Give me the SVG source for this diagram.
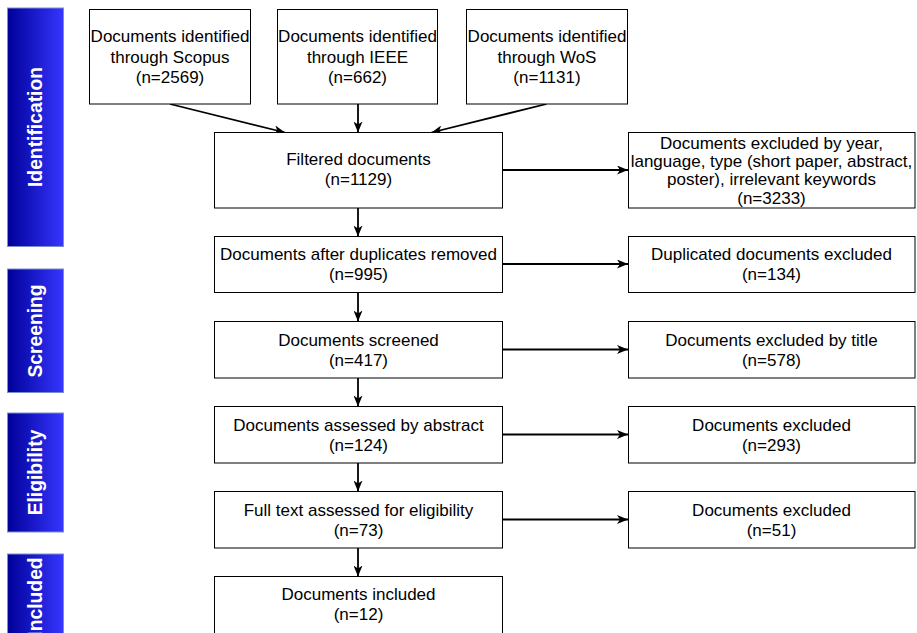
<svg xmlns="http://www.w3.org/2000/svg" width="917" height="633" viewBox="0 0 917 633">
<defs>
<linearGradient id="phase" x1="0" y1="0" x2="1" y2="0">
<stop offset="0" stop-color="#000099"/>
<stop offset="1" stop-color="#3636ff"/>
</linearGradient>
<marker id="arr" viewBox="0 0 11 9" refX="11" refY="4.5" markerWidth="11" markerHeight="9" markerUnits="userSpaceOnUse" orient="auto">
<path d="M0,0 L11,4.5 L0,9 L3,4.5 Z" fill="#000"/>
</marker>
<style>
.box{fill:#fff;stroke:#000;stroke-width:1}
.phase{fill:url(#phase);stroke:#7a8fd0;stroke-width:1}
.t{font-family:"Liberation Sans",Arial,sans-serif;font-size:17px;fill:#000;text-anchor:middle}
.pt{font-family:"Liberation Sans",Arial,sans-serif;font-size:19.3px;font-weight:bold;fill:#fff;text-anchor:middle}
.c{fill:none;stroke:#000;stroke-width:1.8;marker-end:url(#arr)}
</style>
</defs>
<rect width="917" height="633" fill="#fff"/>

<g id="phase-identification">
<rect class="phase" x="7.5" y="8" width="56" height="238.5"/>
<text class="pt" transform="translate(42,127) rotate(-90)">Identification</text>
</g>
<g id="phase-screening">
<rect class="phase" x="7.5" y="269" width="56" height="123.5"/>
<text class="pt" transform="translate(42,331) rotate(-90)">Screening</text>
</g>
<g id="phase-eligibility">
<rect class="phase" x="7.5" y="413" width="56" height="119"/>
<text class="pt" transform="translate(42,472.5) rotate(-90)">Eligibility</text>
</g>
<g id="phase-included">
<rect class="phase" x="7.5" y="554" width="56" height="86"/>
<text class="pt" transform="translate(42,597) rotate(-90)">Included</text>
</g>

<g id="connectors">
<line class="c" x1="170" y1="104" x2="285" y2="132.5"/>
<line class="c" x1="358" y1="104" x2="358" y2="132.5"/>
<line class="c" x1="546.5" y1="104" x2="431.5" y2="132.5"/>
<line class="c" x1="358" y1="208" x2="358" y2="236.5"/>
<line class="c" x1="358" y1="293" x2="358" y2="321.5"/>
<line class="c" x1="358" y1="378" x2="358" y2="406.5"/>
<line class="c" x1="358" y1="463" x2="358" y2="491.5"/>
<line class="c" x1="358" y1="548" x2="358" y2="576.5"/>
<line class="c" x1="502.5" y1="170" x2="628" y2="170"/>
<line class="c" x1="502.5" y1="264" x2="628" y2="264"/>
<line class="c" x1="502.5" y1="349.5" x2="628" y2="349.5"/>
<line class="c" x1="502.5" y1="434.5" x2="628" y2="434.5"/>
<line class="c" x1="502.5" y1="519.5" x2="628" y2="519.5"/>
</g>

<g id="scopus">
<rect class="box" x="89.5" y="9.5" width="161" height="94.5"/>
<text class="t" x="170" y="42.3">Documents identified</text>
<text class="t" x="170" y="62.7">through Scopus</text>
<text class="t" x="170" y="83.1">(n=2569)</text>
</g>
<g id="ieee">
<rect class="box" x="277.5" y="9.5" width="160" height="94.5"/>
<text class="t" x="357.5" y="42.3">Documents identified</text>
<text class="t" x="357.5" y="62.7">through IEEE</text>
<text class="t" x="357.5" y="83.1">(n=662)</text>
</g>
<g id="wos">
<rect class="box" x="466.5" y="9.5" width="161" height="94.5"/>
<text class="t" x="547" y="42.3">Documents identified</text>
<text class="t" x="547" y="62.7">through WoS</text>
<text class="t" x="547" y="83.1">(n=1131)</text>
</g>

<g id="filtered">
<rect class="box" x="214.5" y="132.5" width="288" height="75.5"/>
<text class="t" x="358.5" y="165">Filtered documents</text>
<text class="t" x="358.5" y="185.4">(n=1129)</text>
</g>
<g id="excluded-year">
<rect class="box" x="628.5" y="132.5" width="286.5" height="75.5"/>
<text class="t" x="771.5" y="148.5">Documents excluded by year,</text>
<text class="t" x="771.5" y="166.9">language, type (short paper, abstract,</text>
<text class="t" x="771.5" y="185.3">poster), irrelevant keywords</text>
<text class="t" x="771.5" y="203.7">(n=3233)</text>
</g>

<g id="deduplicated">
<rect class="box" x="214.5" y="236.5" width="288" height="56"/>
<text class="t" x="358.5" y="260">Documents after duplicates removed</text>
<text class="t" x="358.5" y="280.4">(n=995)</text>
</g>
<g id="duplicates-excluded">
<rect class="box" x="628.5" y="236.5" width="286.5" height="56"/>
<text class="t" x="771.5" y="260">Duplicated documents excluded</text>
<text class="t" x="771.5" y="280.4">(n=134)</text>
</g>

<g id="screened">
<rect class="box" x="214.5" y="321.5" width="288" height="56.5"/>
<text class="t" x="358.5" y="345.5">Documents screened</text>
<text class="t" x="358.5" y="365.9">(n=417)</text>
</g>
<g id="excluded-title">
<rect class="box" x="628.5" y="321.5" width="286.5" height="56.5"/>
<text class="t" x="771.5" y="345.5">Documents excluded by title</text>
<text class="t" x="771.5" y="365.9">(n=578)</text>
</g>

<g id="abstract">
<rect class="box" x="214.5" y="406.5" width="288" height="56.5"/>
<text class="t" x="358.5" y="430.5">Documents assessed by abstract</text>
<text class="t" x="358.5" y="450.9">(n=124)</text>
</g>
<g id="excluded-abstract">
<rect class="box" x="628.5" y="406.5" width="286.5" height="56.5"/>
<text class="t" x="771.5" y="430.5">Documents excluded</text>
<text class="t" x="771.5" y="450.9">(n=293)</text>
</g>

<g id="fulltext">
<rect class="box" x="214.5" y="491.5" width="288" height="56.5"/>
<text class="t" x="358.5" y="515.5">Full text assessed for eligibility</text>
<text class="t" x="358.5" y="535.9">(n=73)</text>
</g>
<g id="excluded-fulltext">
<rect class="box" x="628.5" y="491.5" width="286.5" height="56.5"/>
<text class="t" x="771.5" y="515.5">Documents excluded</text>
<text class="t" x="771.5" y="535.9">(n=51)</text>
</g>

<g id="included">
<rect class="box" x="214.5" y="576.5" width="288" height="60"/>
<text class="t" x="358.5" y="600">Documents included</text>
<text class="t" x="358.5" y="620.4">(n=12)</text>
</g>
</svg>
